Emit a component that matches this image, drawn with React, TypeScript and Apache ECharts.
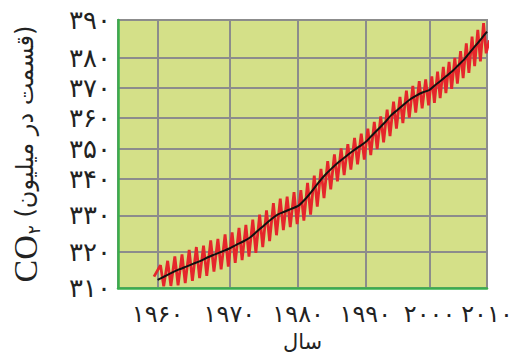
import React, { useEffect, useRef } from "react";
import * as echarts from "echarts";

// ---- data ----
const years = [
  1960, 1961, 1962, 1963, 1964, 1965, 1966, 1967, 1968, 1969,
  1970, 1971, 1972, 1973, 1974, 1975, 1976, 1977, 1978, 1979,
  1980, 1981, 1982, 1983, 1984, 1985, 1986, 1987, 1988, 1989,
  1990, 1991, 1992, 1993, 1994, 1995, 1996, 1997, 1998, 1999,
  2000, 2001, 2002, 2003, 2004, 2005, 2006, 2007, 2008, 2009, 2010,
];
// smoothed trend (black line), ppm
const trend = [
  312.3, 313.3, 314.3, 315.2, 316.0, 316.8, 317.6, 318.6, 319.4, 320.2,
  321.0, 322.0, 322.9, 324.0, 325.6, 327.2, 328.8, 330.2, 331.0, 331.8,
  332.6, 334.4, 336.6, 339.0, 341.4, 343.6, 345.6, 347.4, 349.1, 350.7,
  352.2, 354.3, 356.4, 358.5, 360.9, 362.7, 364.5, 366.2, 367.5, 368.5,
  369.3, 370.9, 372.4, 374.0, 375.6, 377.5, 379.4, 381.4, 383.2, 385.0, 386.9,
];
// seasonal maxima / minima of the red curve, one per year 1960..2009
const seasonalPeaks = [
  316.4, 317.6, 318.8, 319.4, 320.6, 321.4, 321.8, 323.2, 323.6, 324.8,
  325.4, 326.6, 327.4, 328.8, 330.2, 331.4, 333.4, 334.6, 335.2, 336.4,
  337.0, 339.0, 341.2, 343.4, 346.0, 348.2, 350.2, 351.6, 353.6, 355.0,
  356.6, 358.8, 360.6, 362.8, 365.4, 367.0, 369.0, 370.6, 372.2, 372.8,
  373.8, 375.4, 377.0, 378.6, 380.0, 381.8, 383.8, 385.6, 387.4, 389.2,
];
const seasonalTroughs = [
  310.5, 310.6, 310.8, 311.4, 312.0, 312.8, 313.4, 314.6, 315.2, 316.0,
  317.0, 317.8, 318.8, 319.8, 321.4, 323.0, 324.6, 326.0, 326.8, 327.6,
  328.6, 330.2, 332.4, 334.8, 337.2, 339.4, 341.4, 343.2, 344.9, 346.5,
  348.0, 350.0, 352.2, 354.2, 356.6, 358.4, 360.2, 361.8, 363.2, 364.2,
  365.0, 366.6, 368.2, 369.6, 371.4, 373.2, 375.0, 377.2, 378.8, 381.2,
];
const redStart: [number, number] = [1959.5, 313.2];
const redEnd: [number, number] = [2010.4, 384.6];

const xTickYears = [1960, 1970, 1980, 1990, 2000, 2010];
const yTickPpm = [310, 320, 330, 340, 350, 360, 370, 380, 390];

// ---- the drawn (non-uniform) scale of the original figure ----
const xTickVis = [41, 115.3, 186.5, 256, 322.5, 382];
const yTickVis = [0, 37.5, 76, 113.7, 145.2, 177.5, 209.3, 240.5, 280];
const X_MAX = 382;
const Y_MAX = 280;

function piecewise(v: number, from: number[], to: number[]): number {
  let i = 0;
  if (v <= from[0]) i = 0;
  else if (v >= from[from.length - 1]) i = from.length - 2;
  else {
    while (i < from.length - 2 && v > from[i + 1]) i++;
  }
  const t = (v - from[i]) / (from[i + 1] - from[i]);
  return to[i] + t * (to[i + 1] - to[i]);
}
const xv = (year: number) => piecewise(year, xTickYears, xTickVis);
const yv = (ppm: number) => piecewise(ppm, yTickPpm, yTickVis);

const FA = "۰۱۲۳۴۵۶۷۸۹";
const toFa = (n: number) => String(n).replace(/\d/g, (d) => FA[+d]);

function labelFor(v: number, vis: number[], vals: number[]) {
  for (let i = 0; i < vis.length; i++) {
    if (Math.abs(vis[i] - v) < 0.5) return toFa(vals[i]);
  }
  return "";
}

export default function App() {
  const ref = useRef<HTMLDivElement>(null);

  useEffect(() => {
    if (!ref.current) return;
    const chart = echarts.init(ref.current, undefined, { renderer: "svg" });

    const trendData = years.map((y, i) => [xv(y), yv(trend[i])]);
    const redData: number[][] = [[xv(redStart[0]), yv(redStart[1])]];
    seasonalPeaks.forEach((p, i) => {
      const y = years[i];
      redData.push([xv(y + 0.4), yv(p)]);
      redData.push([xv(y + 0.85), yv(seasonalTroughs[i])]);
    });
    redData.push([xv(redEnd[0]), yv(redEnd[1])]);

    chart.setOption({
      animation: false,
      backgroundColor: "#ffffff",
      grid: {
        left: 105,
        top: 20,
        width: 382,
        height: 280,
        show: true,
        backgroundColor: "#d4e088",
        borderColor: "#8c8c8c",
        borderWidth: 2,
      },
      xAxis: {
        type: "value",
        min: 0,
        max: X_MAX,
        name: "سال",
        nameLocation: "middle",
        nameGap: 42,
        nameTextStyle: { fontFamily: "DejaVu Sans", fontSize: 21, color: "#222" },
        axisLine: { show: true, onZero: false, lineStyle: { color: "#3aae4c", width: 2.5 } },
        axisTick: { show: false, customValues: xTickVis },
        axisLabel: {
          customValues: xTickVis,
          margin: 14,
          fontFamily: "DejaVu Sans",
          fontSize: 24,
          color: "#222",
          formatter: (v: number) => labelFor(v, xTickVis, xTickYears),
        },
        splitLine: { show: true, lineStyle: { color: "#8c8c8c", width: 2 } },
      },
      yAxis: {
        type: "value",
        min: 0,
        max: Y_MAX,
        name: "{co|CO}{sub|۲} {fa|(قسمت در میلیون)}",
        nameLocation: "middle",
        nameRotate: 90,
        nameGap: 76,
        nameTextStyle: {
          color: "#222",
          fontFamily: "DejaVu Sans",
          fontSize: 24,
          rich: {
            co: { fontFamily: "Liberation Serif", fontSize: 34, color: "#222" },
            sub: {
              fontFamily: "DejaVu Sans",
              fontSize: 17,
              color: "#222",
              verticalAlign: "bottom",
              padding: [15, 0, 0, 1],
            },
            fa: { fontFamily: "DejaVu Sans", fontSize: 24, color: "#222" },
          },
        },
        axisLine: { show: true, onZero: false, lineStyle: { color: "#3aae4c", width: 2.5 } },
        axisTick: { show: false, customValues: yTickVis },
        axisLabel: {
          customValues: yTickVis,
          margin: 7,
          fontFamily: "DejaVu Sans",
          fontSize: 26,
          color: "#222",
          formatter: (v: number) => labelFor(v, yTickVis, yTickPpm),
        },
        splitLine: { show: true, lineStyle: { color: "#8c8c8c", width: 2 } },
      },
      series: [
        {
          name: "monthly",
          type: "line",
          data: redData,
          showSymbol: false,
          clip: false,
          lineStyle: { color: "#e5262b", width: 2.8 },
          z: 3,
        },
        {
          name: "trend",
          type: "line",
          data: trendData,
          showSymbol: false,
          smooth: 0.3,
          lineStyle: { color: "#111111", width: 2 },
          z: 4,
        },
      ],
    });

    return () => chart.dispose();
  }, []);

  return (
    <div
      ref={ref}
      style={{ position: "absolute", left: 0, top: 0, width: 526, height: 357 }}
    />
  );
}
